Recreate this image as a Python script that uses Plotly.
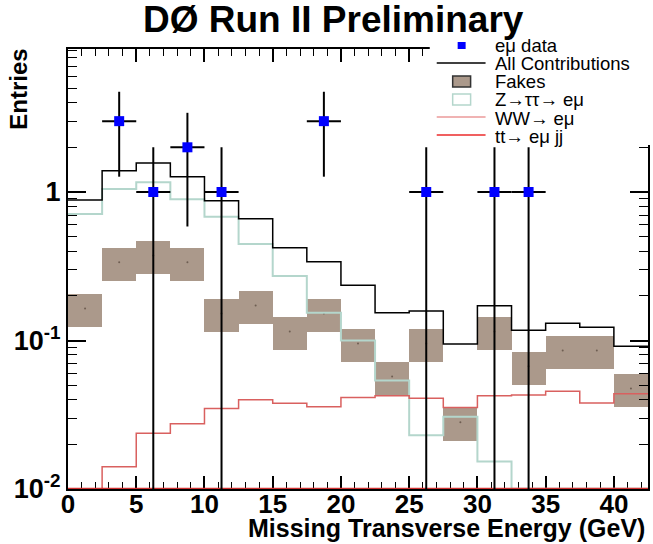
import numpy as np
import plotly.graph_objects as go

# ---------------- data ----------------
bin_edges = [0, 2.5, 5, 7.5, 10, 12.5, 15, 17.5, 20, 22.5, 25, 27.5, 30, 32.5, 35, 37.5, 40, 42.5]

fakes = [0.1645, 0.336, 0.374, 0.336, 0.152, 0.172, 0.115, 0.152, 0.0956,
         0.0573, 0.0956, 0.0282, 0.115, 0.067, 0.0858, 0.0858, 0.0476]
fakes_rel_err = 0.25

ztautau = [0.711, 1.048, 1.162, 0.893, 0.682, 0.446, 0.272, 0.154, 0.100,
           0.0538, 0.023, 0.0307, 0.0153, 0, 0, 0, 0]

ww = [0, 0.0141, 0.0237, 0.0275, 0.0349, 0.0399, 0.0378, 0.0358, 0.0413,
      0.0425, 0.0409, 0.0354, 0.0425, 0.0430, 0.0455, 0.0380, 0.0438]

ttbar = [0, 0, 0, 0, 0, 0.001, 0.001, 0.001, 0.001,
         0.001, 0.002, 0.002, 0.002, 0.007, 0.003, 0.002, 0.002]

all_contrib = [0.883, 1.391, 1.567, 1.268, 0.874, 0.661, 0.422, 0.339, 0.236,
               0.154, 0.158, 0.0947, 0.1715, 0.1172, 0.1305, 0.1227, 0.0914]

data_x = [3.75, 6.25, 8.75, 11.25, 18.75, 26.25, 31.25, 33.75]
data_n = [3, 1, 2, 1, 3, 1, 1, 1]

x_ticks = [0, 5, 10, 15, 20, 25, 30, 35, 40]
y_tickvals = [0.01, 0.1, 1]
y_ticktext = ["10<sup>-2</sup>", "10<sup>-1</sup>", "1"]

# ---------------- helpers ----------------
YMIN_LOG, YMAX_LOG = -2.0, 0.963
FLOOR = 10 ** (YMIN_LOG + 0.002)
edges = np.array(bin_edges)
centers = 0.5 * (edges[:-1] + edges[1:])
bw = edges[1] - edges[0]


def step(vals):
    v = np.maximum(np.array(vals, dtype=float), FLOOR)
    return list(edges), list(np.append(v, v[-1]))


FONT = "Liberation Sans, Arial, Helvetica, sans-serif"
W, H = 653, 544
ML, MR, MT, MB = 68, 3, 49, 55
PW, PH = W - ML - MR, H - MT - MB


def px(xp):
    return (xp - ML) / PW


def py(yp):
    return (H - MB - yp) / PH


fig = go.Figure()

# Fakes: boxes value +- 25%
fk = np.array(fakes)
lo = fk * (1 - fakes_rel_err)
hi = fk * (1 + fakes_rel_err)
fig.add_trace(go.Bar(x=centers, y=hi - lo, base=lo, width=bw,
                     marker=dict(color="#ab998b", line=dict(width=0)),
                     showlegend=False, hoverinfo="skip"))
fig.add_trace(go.Scatter(x=centers, y=fk, mode="markers",
                         marker=dict(size=2, color="#6e5e52"),
                         showlegend=False, hoverinfo="skip"))

# Z -> tautau
sx, sy = step(ztautau)
fig.add_trace(go.Scatter(x=sx, y=sy, mode="lines", line=dict(shape="hv", color="#b4d6cc", width=2),
                         showlegend=False))
# WW
sx, sy = step(ww)
fig.add_trace(go.Scatter(x=sx, y=sy, mode="lines", line=dict(shape="hv", color="#d9605f", width=1.5),
                         showlegend=False))
# ttbar (below the axis minimum -> drawn on the floor)
sx, sy = step(ttbar)
fig.add_trace(go.Scatter(x=sx, y=sy, mode="lines", line=dict(shape="hv", color="#d03030", width=2),
                         showlegend=False))
# All contributions
sx, sy = step(all_contrib)
fig.add_trace(go.Scatter(x=sx, y=sy, mode="lines", line=dict(shape="hv", color="black", width=1.5),
                         showlegend=False))

# data
dn = np.array(data_n, dtype=float)
fig.add_trace(go.Scatter(
    x=data_x, y=data_n, mode="markers",
    marker=dict(symbol="square", size=10, color="#0000ff", line=dict(width=0)),
    error_x=dict(type="constant", value=bw / 2, thickness=2, width=0, color="black"),
    error_y=dict(type="data", array=np.sqrt(dn), arrayminus=np.sqrt(dn), thickness=2, width=0, color="black"),
    showlegend=False))

fig.update_layout(
    width=W, height=H,
    margin=dict(l=ML, r=MR, t=MT, b=MB, pad=0),
    paper_bgcolor="white", plot_bgcolor="white",
    barmode="overlay", bargap=0,
    font=dict(family=FONT, color="black"),
    showlegend=False,
)

fig.update_xaxes(
    range=[edges[0], edges[-1]], tickvals=x_ticks, ticks="inside", ticklen=13, tickwidth=1.5,
    tickcolor="black", showline=True, linecolor="black", linewidth=2, mirror="ticks",
    showgrid=False, zeroline=False, layer="below traces", ticklabelstandoff=-9,
    tickfont=dict(family=FONT, size=26, weight="bold", color="black"),
    minor=dict(dtick=1, tick0=0, ticks="inside", ticklen=7, tickwidth=1.2, tickcolor="black"),
)
minor_y = [m * 10 ** e for e in (-2, -1, 0) for m in range(2, 10)]
fig.update_yaxes(
    type="log", range=[YMIN_LOG, YMAX_LOG], tickvals=y_tickvals, ticktext=y_ticktext,
    ticks="inside", ticklen=18, tickwidth=1.5, tickcolor="black",
    showline=True, linecolor="black", linewidth=2, mirror="ticks",
    showgrid=False, zeroline=False,
    tickfont=dict(family=FONT, size=27, weight="bold", color="black"),
    minor=dict(tickvals=minor_y, ticks="inside", ticklen=9, tickwidth=1.2, tickcolor="black"),
)

shapes = []
annotations = []
# legend box (white, hides frame behind it)
shapes.append(dict(type="rect", xref="paper", yref="paper", x0=px(431), x1=px(653), y0=py(145), y1=py(34),
                   fillcolor="white", line=dict(width=0), layer="above"))
# legend symbols
shapes.append(dict(type="rect", xref="paper", yref="paper", x0=px(459), x1=px(467), y0=py(49), y1=py(42),
                   fillcolor="#0000ff", line=dict(width=0), layer="above"))
shapes.append(dict(type="line", xref="paper", yref="paper", x0=px(438), x1=px(487), y0=py(63), y1=py(63),
                   line=dict(color="black", width=1.5), layer="above"))
shapes.append(dict(type="rect", xref="paper", yref="paper", x0=px(454), x1=px(472), y0=py(87), y1=py(76),
                   fillcolor="#ab998b", line=dict(color="#333333", width=1.5), layer="above"))
shapes.append(dict(type="rect", xref="paper", yref="paper", x0=px(454), x1=px(472), y0=py(105), y1=py(94),
                   fillcolor="white", line=dict(color="#b4d6cc", width=1.5), layer="above"))
shapes.append(dict(type="line", xref="paper", yref="paper", x0=px(438), x1=px(487), y0=py(117), y1=py(117),
                   line=dict(color="#eb9a9a", width=1.5), layer="above"))
shapes.append(dict(type="line", xref="paper", yref="paper", x0=px(438), x1=px(487), y0=py(135), y1=py(135),
                   line=dict(color="#f06060", width=2), layer="above"))

legend_labels = ["eμ data", "All Contributions", "Fakes", "Z→ττ→ eμ", "WW→ eμ", "tt→ eμ jj"]
legend_rows = [45, 63, 82, 99, 118, 136]
for lab, yr in zip(legend_labels, legend_rows):
    annotations.append(dict(text=lab, xref="paper", yref="paper", x=px(494), y=py(yr),
                            xanchor="left", yanchor="middle", showarrow=False,
                            font=dict(family=FONT, size=18.5, color="black")))

# title
annotations.append(dict(text="DØ Run II Preliminary", xref="paper", yref="paper",
                        x=px(334), y=py(19), xanchor="center", yanchor="middle", showarrow=False,
                        font=dict(family=FONT, size=37, weight="bold", color="black")))
# x title
annotations.append(dict(text="Missing Transverse Energy (GeV)", xref="paper", yref="paper",
                        x=px(649), y=py(528), xanchor="right", yanchor="middle", showarrow=False,
                        font=dict(family=FONT, size=25, weight="bold", color="black")))
# y title
annotations.append(dict(text="Entries", xref="paper", yref="paper", textangle=-90,
                        x=px(18), y=py(47), xanchor="center", yanchor="top", showarrow=False,
                        font=dict(family=FONT, size=24, weight="bold", color="black")))

fig.update_layout(shapes=shapes, annotations=annotations)
fig.write_html("out.html")
